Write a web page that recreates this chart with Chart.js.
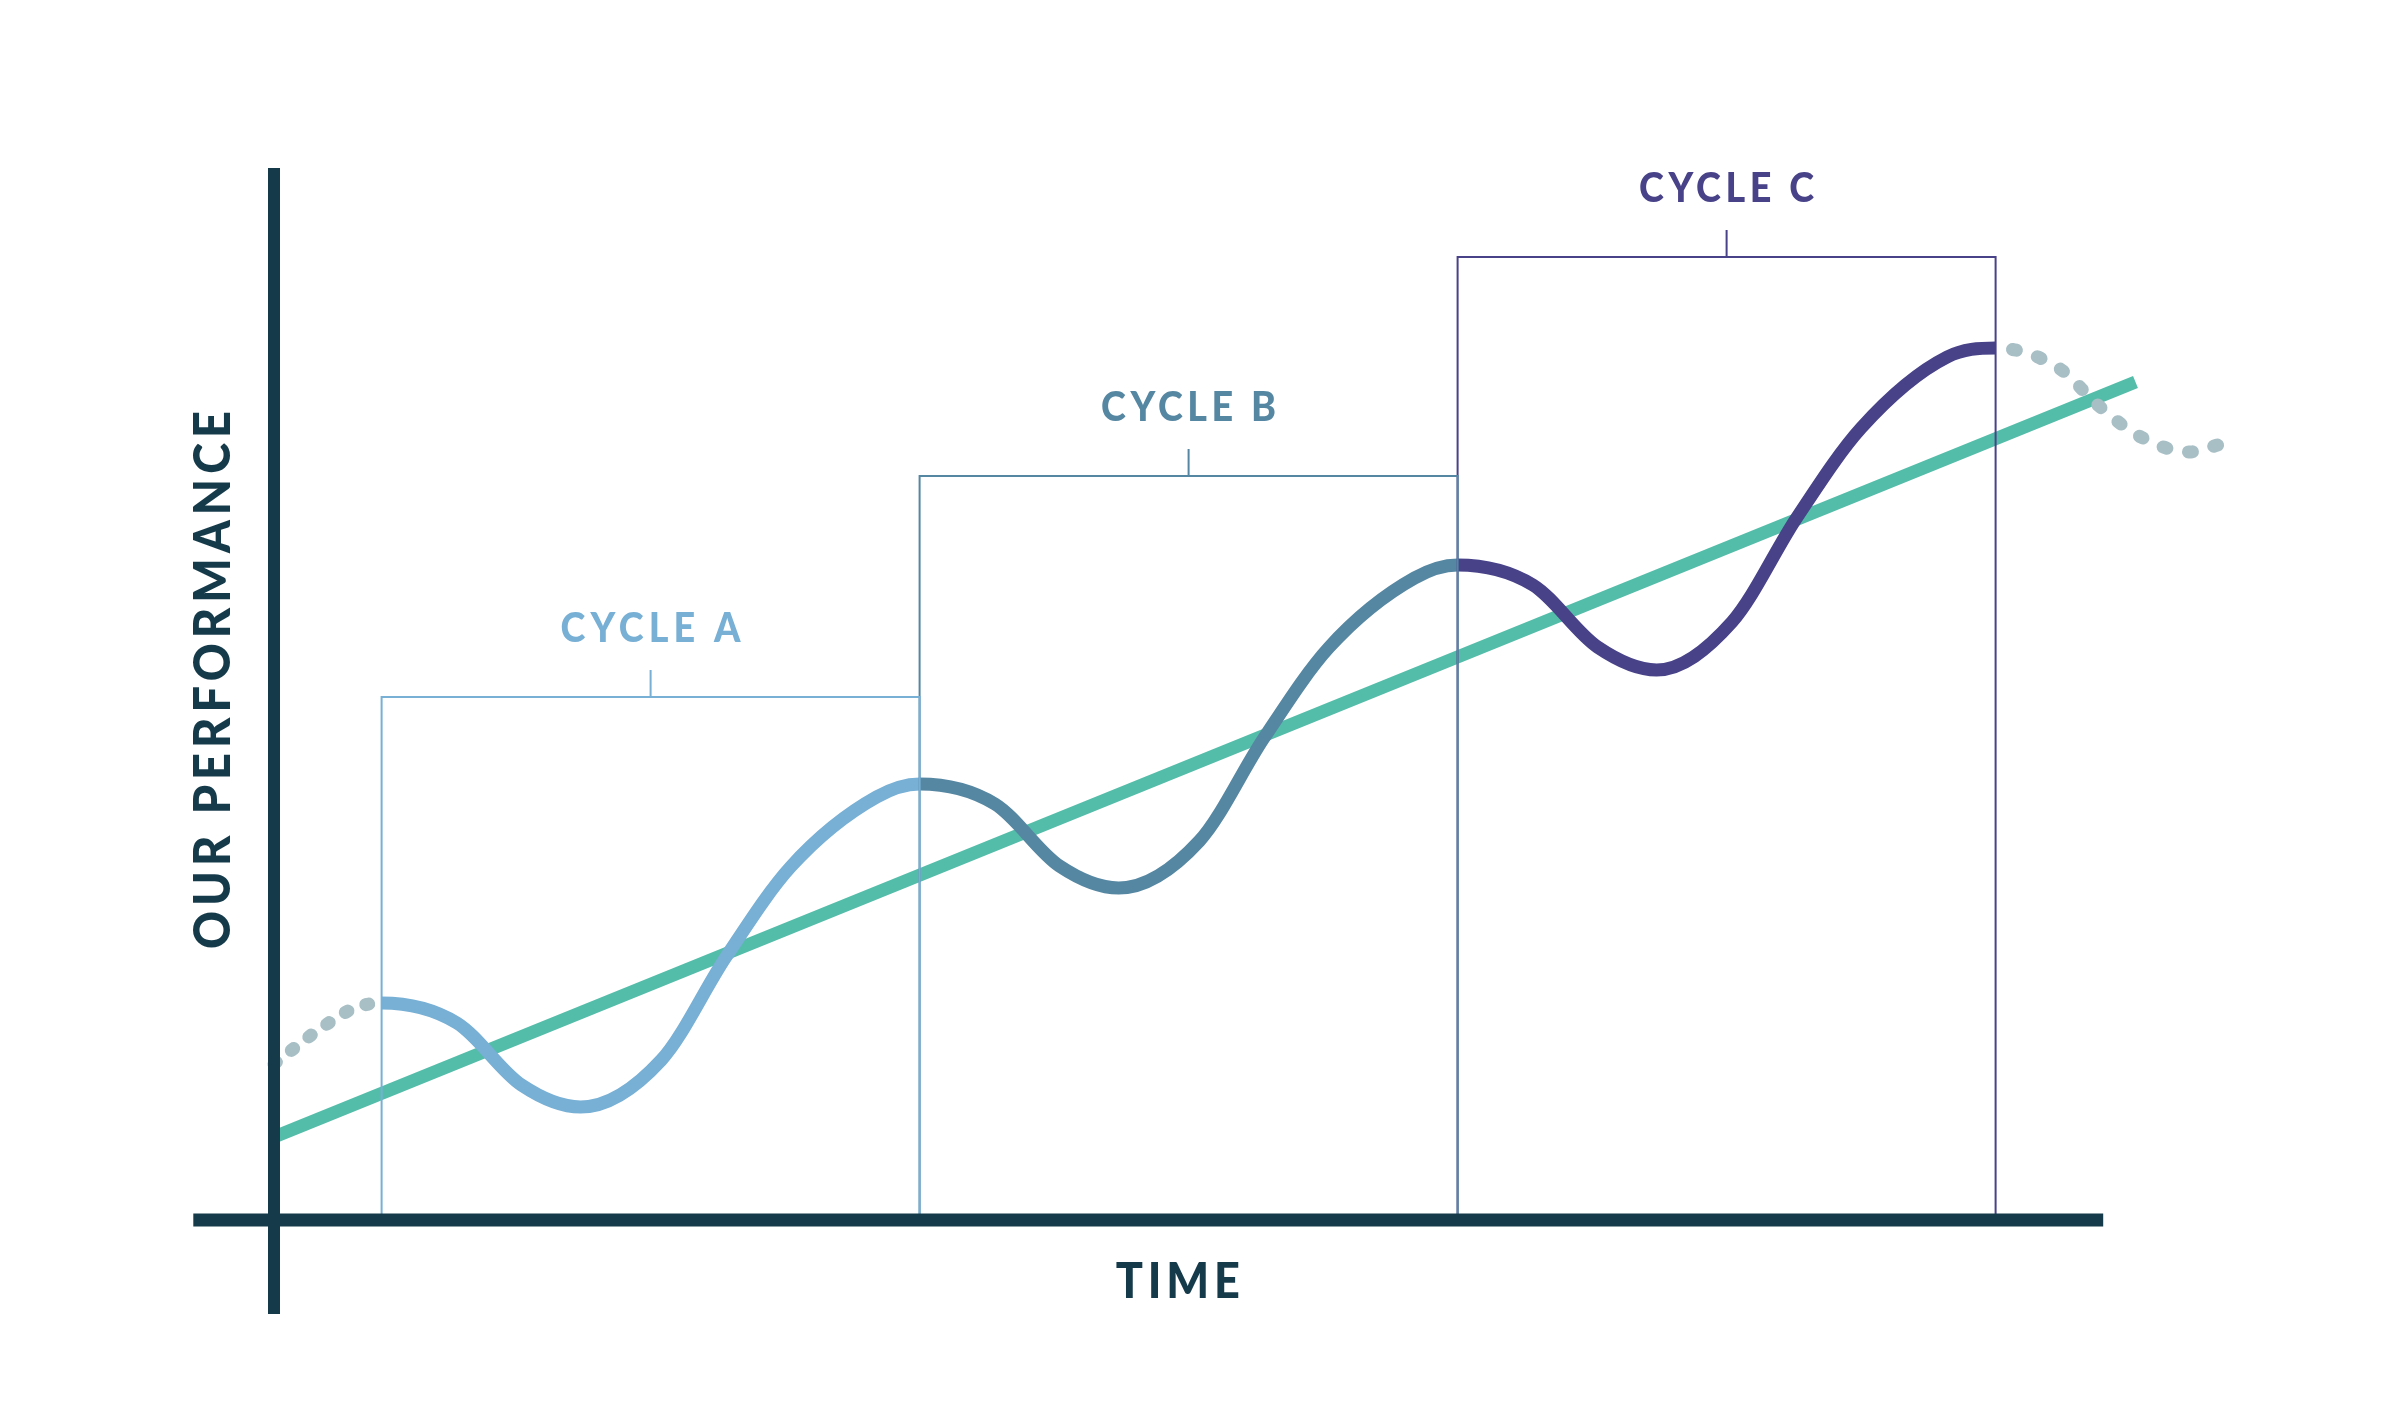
<!DOCTYPE html>
<html>
<head>
<meta charset="utf-8">
<title>Performance cycles</title>
<script src="https://cdn.jsdelivr.net/npm/chart.js@4.4.1/dist/chart.umd.min.js"></script>
<style>
  html, body { margin: 0; padding: 0; background: #fff; overflow: hidden; }
  #wrap { width: 2401px; height: 1401px; }
</style>
</head>
<body>
<div id="wrap"><canvas id="cycleChart"></canvas></div>
<script>
// Cycle brackets (time units, performance units)
const cycleNames = ['CYCLE A', 'CYCLE B', 'CYCLE C'];
const cycleStarts = [2, 12, 22];
const cycleEnds = [12, 22, 32];
const cycleTops = [52.3, 74.4, 96.3];

// Performance wave, one list per cycle
const cycleA = [[2, 21.7], [3.4, 19.7], [4.6, 13.5], [5.7, 11.3], [7.2, 16.0], [8.4, 26.3],
  [9.6, 35.3], [11.2, 42.3], [12, 43.6]];
const cycleB = [[12, 43.6], [13.4, 41.6], [14.6, 35.4], [15.7, 33.2], [17.2, 37.9], [18.4, 48.2],
  [19.6, 57.2], [21.2, 64.2], [22, 65.5]];
const cycleC = [[22, 65.5], [23.4, 63.5], [24.6, 57.3], [25.7, 55.0], [27.1, 59.8], [28.3, 70.2],
  [29.5, 79.2], [31.1, 86.3], [32, 87.2]];

// dotted lead-in (before cycle A) and tail-off (after cycle C)
const leadIn = [[0, 15.6], [0.8, 18.9], [1.5, 21.2]];
const tailOff = [[33.2, 85.1], [33.9, 81.5], [34.7, 78.3], [35.6, 76.8], [36.2, 77.6]];

// trend and axes
const trendLine = [[0, 8.3], [34.6, 83.8]];
const xAxisLine = [[-1.5, 0], [34, 0]];
const yAxisLine = [[0, -9.4], [0, 105.2]];
const xTitle = 'TIME';
const yTitle = 'OUR PERFORMANCE';

const ink = '#153a4a';
const trendColor = '#54bda9';
const dotColor = '#a7bfc5';
const cycleColors = ['#77afd5', '#5687a2', '#484289'];

const toXY = pts => pts.map(([x, y]) => ({ x, y }));
const TICK = 2.7;

function bracket(i) {
  const s = cycleStarts[i], e = cycleEnds[i], t = cycleTops[i], m = (s + e) / 2;
  return [[s, 0], [s, t], [m, t], [m, t + TICK], [m, t], [e, t], [e, 0]];
}

function cycleIndex(x) {
  let idx = 0;
  cycleStarts.forEach((s, i) => { if (x >= s - 0.001) idx = i; });
  return idx;
}

const wave = [...leadIn, ...cycleA, ...cycleB.slice(1), ...cycleC.slice(1), ...tailOff];
const isLead = x => x < cycleStarts[0] - 0.001;
const isTail = x => x > cycleEnds[cycleEnds.length - 1] - 0.001;

// text with letter spacing stretched to a given width, glyphs slightly condensed
function spacedText(ctx, text, x, y, width, squeeze) {
  ctx.save();
  ctx.translate(x, y);
  ctx.scale(squeeze, 1);
  ctx.letterSpacing = '0px';
  const raw = ctx.measureText(text).width;
  const gap = (width / squeeze - raw) / (text.length - 1);
  ctx.letterSpacing = gap + 'px';
  ctx.fillText(text, gap / 2, 0);
  ctx.restore();
}

const textPlugin = {
  id: 'cycleText',
  afterDatasetsDraw(chart) {
    const { ctx, scales: { x, y } } = chart;
    ctx.save();
    ctx.textAlign = 'center';
    ctx.textBaseline = 'alphabetic';

    ctx.font = '900 41px Lato';
    cycleNames.forEach((name, i) => {
      ctx.fillStyle = cycleColors[i];
      const cx = x.getPixelForValue((cycleStarts[i] + cycleEnds[i]) / 2);
      const cy = y.getPixelForValue(cycleTops[i] + 7);
      spacedText(ctx, name, cx, cy + 14.5, [180, 175, 175][i], 0.92);
    });

    ctx.fillStyle = ink;
    ctx.font = '900 49px Lato';
    spacedText(ctx, xTitle, x.getPixelForValue(16.8), y.getPixelForValue(-6) + 17.5, 124, 0.92);

    ctx.font = '900 51px Lato';
    ctx.translate(x.getPixelForValue(-1.15), y.getPixelForValue(54.0));
    ctx.rotate(-Math.PI / 2);
    spacedText(ctx, yTitle, 0, 18, 538, 0.92);
    ctx.restore();
  }
};

const lineBase = { pointRadius: 0, fill: false, borderCapStyle: 'butt', tension: 0 };

new Chart(document.getElementById('cycleChart'), {
  type: 'line',
  data: {
    datasets: [
      { ...lineBase, data: toXY(yAxisLine), borderColor: ink, borderWidth: 12 },
      { ...lineBase, data: toXY(xAxisLine), borderColor: ink, borderWidth: 13 },
      ...cycleNames.map((n, i) => ({
        ...lineBase, data: toXY(bracket(i)), borderColor: cycleColors[i], borderWidth: 2
      })),
      { ...lineBase, data: toXY(wave), borderColor: cycleColors[0], borderWidth: 13,
        cubicInterpolationMode: 'monotone',
        segment: {
          borderColor: c => (isLead(c.p0.parsed.x) || isTail(c.p0.parsed.x))
            ? dotColor : cycleColors[cycleIndex(c.p0.parsed.x)],
          borderDash: c => isLead(c.p0.parsed.x) ? [3, 19] : isTail(c.p0.parsed.x) ? [4, 22] : [],
          borderDashOffset: c => isTail(c.p0.parsed.x) ? -17 : 0,
          borderCapStyle: c => (isLead(c.p0.parsed.x) || isTail(c.p0.parsed.x)) ? 'round' : 'butt'
        } },
      { ...lineBase, data: toXY(trendLine), borderColor: trendColor, borderWidth: 13 }
    ]
  },
  options: {
    responsive: true,
    maintainAspectRatio: false,
    animation: false,
    events: [],
    layout: { padding: 0 },
    plugins: { legend: { display: false }, tooltip: { enabled: false } },
    scales: {
      x: { type: 'linear', display: false, min: -274 / 53.8, max: (2401 - 274) / 53.8 },
      y: { display: false, min: -18.1, max: 122 }
    }
  },
  plugins: [textPlugin]
});
</script>
</body>
</html>
